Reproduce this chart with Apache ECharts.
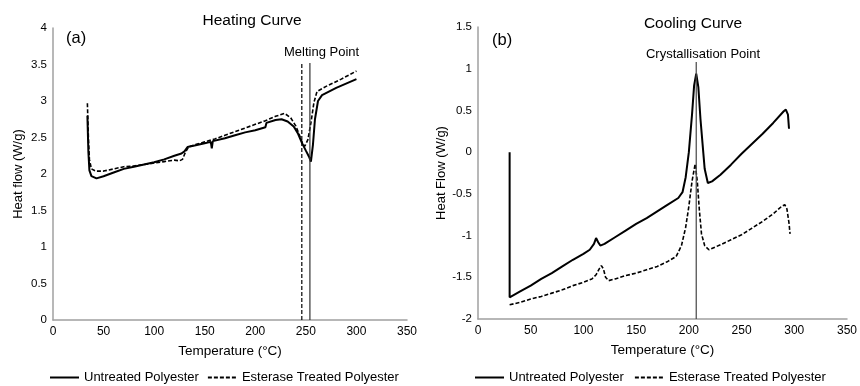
<!DOCTYPE html>
<html>
<head>
<meta charset="utf-8">
<script src="https://cdn.jsdelivr.net/npm/echarts@6/dist/echarts.min.js"></script>
<style>
  html, body { margin: 0; padding: 0; background: #fff; }
  #chart { width: 860px; height: 386px; }
</style>
</head>
<body>
<div id="chart"></div>
<script>
// series names
const seriesNames = ['Untreated Polyester', 'Esterase Treated Polyester'];

// heating curve, [temperature, heat flow]
const heatUntreated = [
  [34, 2.80], [35, 2.30], [36, 2.05], [38, 1.97], [43, 1.94], [50, 1.97], [60, 2.02],
  [70, 2.07], [80, 2.10], [90, 2.13], [100, 2.16], [110, 2.20], [120, 2.25], [127, 2.28],
  [130, 2.31], [133, 2.37], [140, 2.39], [150, 2.42], [156, 2.44], [157, 2.35], [158, 2.45],
  [170, 2.49], [180, 2.53], [190, 2.57], [200, 2.60], [210, 2.64], [211, 2.70], [220, 2.74],
  [226, 2.75], [232, 2.72], [238, 2.65], [242, 2.56], [246, 2.43], [250, 2.32], [253, 2.24],
  [255, 2.17], [257, 2.40], [259, 2.75], [262, 3.00], [266, 3.08], [280, 3.18], [300, 3.30]
];
const heatEsterase = [
  [34, 2.97], [35, 2.50], [36, 2.20], [38, 2.07], [42, 2.04], [50, 2.04], [60, 2.07],
  [70, 2.10], [80, 2.11], [90, 2.13], [100, 2.15], [110, 2.17], [120, 2.19], [125, 2.18],
  [128, 2.20], [131, 2.30], [134, 2.37], [140, 2.40], [150, 2.44], [160, 2.48], [170, 2.53],
  [180, 2.58], [190, 2.63], [200, 2.68], [210, 2.73], [220, 2.79], [229, 2.83], [235, 2.77],
  [240, 2.66], [244, 2.52], [247, 2.41], [249, 2.38], [252, 2.47], [255, 2.70], [258, 2.98],
  [261, 3.13], [270, 3.20], [285, 3.30], [300, 3.41]
];

// cooling curve, [temperature, heat flow]
const coolUntreated = [
  [30, 0.00], [30, -1.74], [40, -1.67], [50, -1.60], [60, -1.52], [70, -1.45], [80, -1.37],
  [90, -1.29], [100, -1.22], [106, -1.17], [110, -1.10], [112, -1.03], [114, -1.08],
  [116, -1.12], [120, -1.10], [130, -1.02], [140, -0.94], [150, -0.86], [160, -0.79],
  [170, -0.71], [180, -0.63], [190, -0.55], [194, -0.48], [197, -0.30], [200, 0.00],
  [203, 0.45], [205, 0.80], [207, 0.94], [209, 0.78], [211, 0.40], [213, 0.10], [215, -0.20],
  [218, -0.37], [222, -0.35], [230, -0.27], [240, -0.15], [250, -0.02], [260, 0.10],
  [270, 0.22], [280, 0.35], [290, 0.49], [292, 0.51], [294, 0.45], [295, 0.28]
];
const coolEsterase = [
  [30, -1.83], [40, -1.80], [50, -1.76], [60, -1.73], [70, -1.69], [80, -1.65], [90, -1.60],
  [100, -1.56], [108, -1.52], [112, -1.47], [115, -1.40], [117, -1.36], [119, -1.40],
  [121, -1.50], [124, -1.54], [130, -1.52], [140, -1.48], [150, -1.45], [160, -1.41],
  [170, -1.37], [180, -1.31], [188, -1.25], [193, -1.12], [197, -0.90], [200, -0.65],
  [203, -0.35], [206, -0.14], [208, -0.35], [210, -0.70], [212, -0.98], [215, -1.12],
  [219, -1.17], [230, -1.11], [240, -1.05], [250, -0.99], [260, -0.91], [270, -0.83],
  [280, -0.74], [288, -0.65], [291, -0.63], [293, -0.68], [295, -0.85], [296, -0.98]
];

// marker lines
const meltEsterase = [[246, 0], [246, 3.52]];
const meltUntreated = [[254, 0], [254, 3.52]];
const crystLine = [[207, -2], [207, 1.08]];

const FONT = 'Liberation Sans';

function axisX(grid) {
  return {
    type: 'value', gridIndex: grid, min: 0, max: 350, interval: 50,
    name: 'Temperature (°C)', nameLocation: 'middle', nameGap: 24,
    nameTextStyle: { color: '#000', fontSize: 13.5, fontFamily: FONT },
    axisLine: { onZero: false, lineStyle: { color: '#a0a0a0', width: 1.5 } },
    axisTick: { show: false },
    splitLine: { show: false },
    axisLabel: { color: '#000', fontSize: 12, fontFamily: FONT, margin: 6 },
  };
}
function axisY(grid, min, max, name, gap) {
  return {
    type: 'value', gridIndex: grid, min: min, max: max, interval: 0.5,
    name: name, nameLocation: 'middle', nameGap: gap,
    nameTextStyle: { color: '#000', fontSize: 13, fontFamily: FONT },
    axisLine: { show: true, onZero: false, lineStyle: { color: '#a0a0a0', width: 1.5 } },
    axisTick: { show: false },
    splitLine: { show: false },
    axisLabel: { color: '#000', fontSize: 11.5, fontFamily: FONT, margin: 6 },
  };
}
function curve(name, data, idx, dashed) {
  return {
    name: name, type: 'line', data: data, xAxisIndex: idx, yAxisIndex: idx,
    showSymbol: false, symbol: 'none', animation: false,
    lineStyle: dashed
      ? { color: '#000', width: 1.6, type: [4, 2] }
      : { color: '#000', width: 2 },
    itemStyle: { color: '#000' },
  };
}
function marker(data, idx, dashed, color) {
  return {
    type: 'line', data: data, xAxisIndex: idx, yAxisIndex: idx,
    showSymbol: false, symbol: 'none', animation: false, silent: true,
    lineStyle: { color: color, width: 1.2, type: dashed ? [4, 2] : 'solid' },
  };
}
function legendAt(left, gap) {
  return {
    left: left, top: 366, itemWidth: 29, itemHeight: 14, itemGap: gap,
    data: seriesNames,
    itemStyle: { opacity: 0 },
    textStyle: { color: '#000', fontSize: 13, fontFamily: FONT },
    selectedMode: false,
  };
}

const titleStyle = { fontSize: 15.5, fontWeight: 'normal', color: '#000', fontFamily: FONT };
const noteStyle = { fontSize: 13, fontWeight: 'normal', color: '#000', fontFamily: FONT };

const chart = echarts.init(document.getElementById('chart'));
chart.setOption({
  animation: false,
  backgroundColor: '#fff',
  title: [
    { text: 'Heating Curve', left: 247, top: 8, textAlign: 'center', textStyle: titleStyle },
    { text: 'Cooling Curve', left: 688, top: 11, textAlign: 'center', textStyle: titleStyle },
    { text: '(a)', left: 61, top: 25,
      textStyle: { fontSize: 16.5, fontWeight: 'normal', color: '#000', fontFamily: FONT } },
    { text: '(b)', left: 487, top: 27,
      textStyle: { fontSize: 16.5, fontWeight: 'normal', color: '#000', fontFamily: FONT } },
    { text: 'Melting Point', left: 279, top: 41, textStyle: noteStyle },
    { text: 'Crystallisation Point', left: 698, top: 43, textAlign: 'center', textStyle: noteStyle },
  ],
  legend: [legendAt(44, 8), legendAt(469, 10)],
  grid: [
    { left: 53, top: 28, width: 354, height: 292 },
    { left: 478, top: 27, width: 373, height: 292 },
  ],
  xAxis: [axisX(0), axisX(1)],
  yAxis: [
    axisY(0, 0, 4, 'Heat flow (W/g)', 28),
    axisY(1, -2, 1.5, 'Heat Flow (W/g)', 28),
  ],
  series: [
    curve(seriesNames[0], heatUntreated, 0, false),
    curve(seriesNames[1], heatEsterase, 0, true),
    curve(seriesNames[0], coolUntreated, 1, false),
    curve(seriesNames[1], coolEsterase, 1, true),
    marker(meltEsterase, 0, true, '#000'),
    marker(meltUntreated, 0, false, '#333'),
    marker(crystLine, 1, false, '#444'),
  ],
});
</script>
</body>
</html>
